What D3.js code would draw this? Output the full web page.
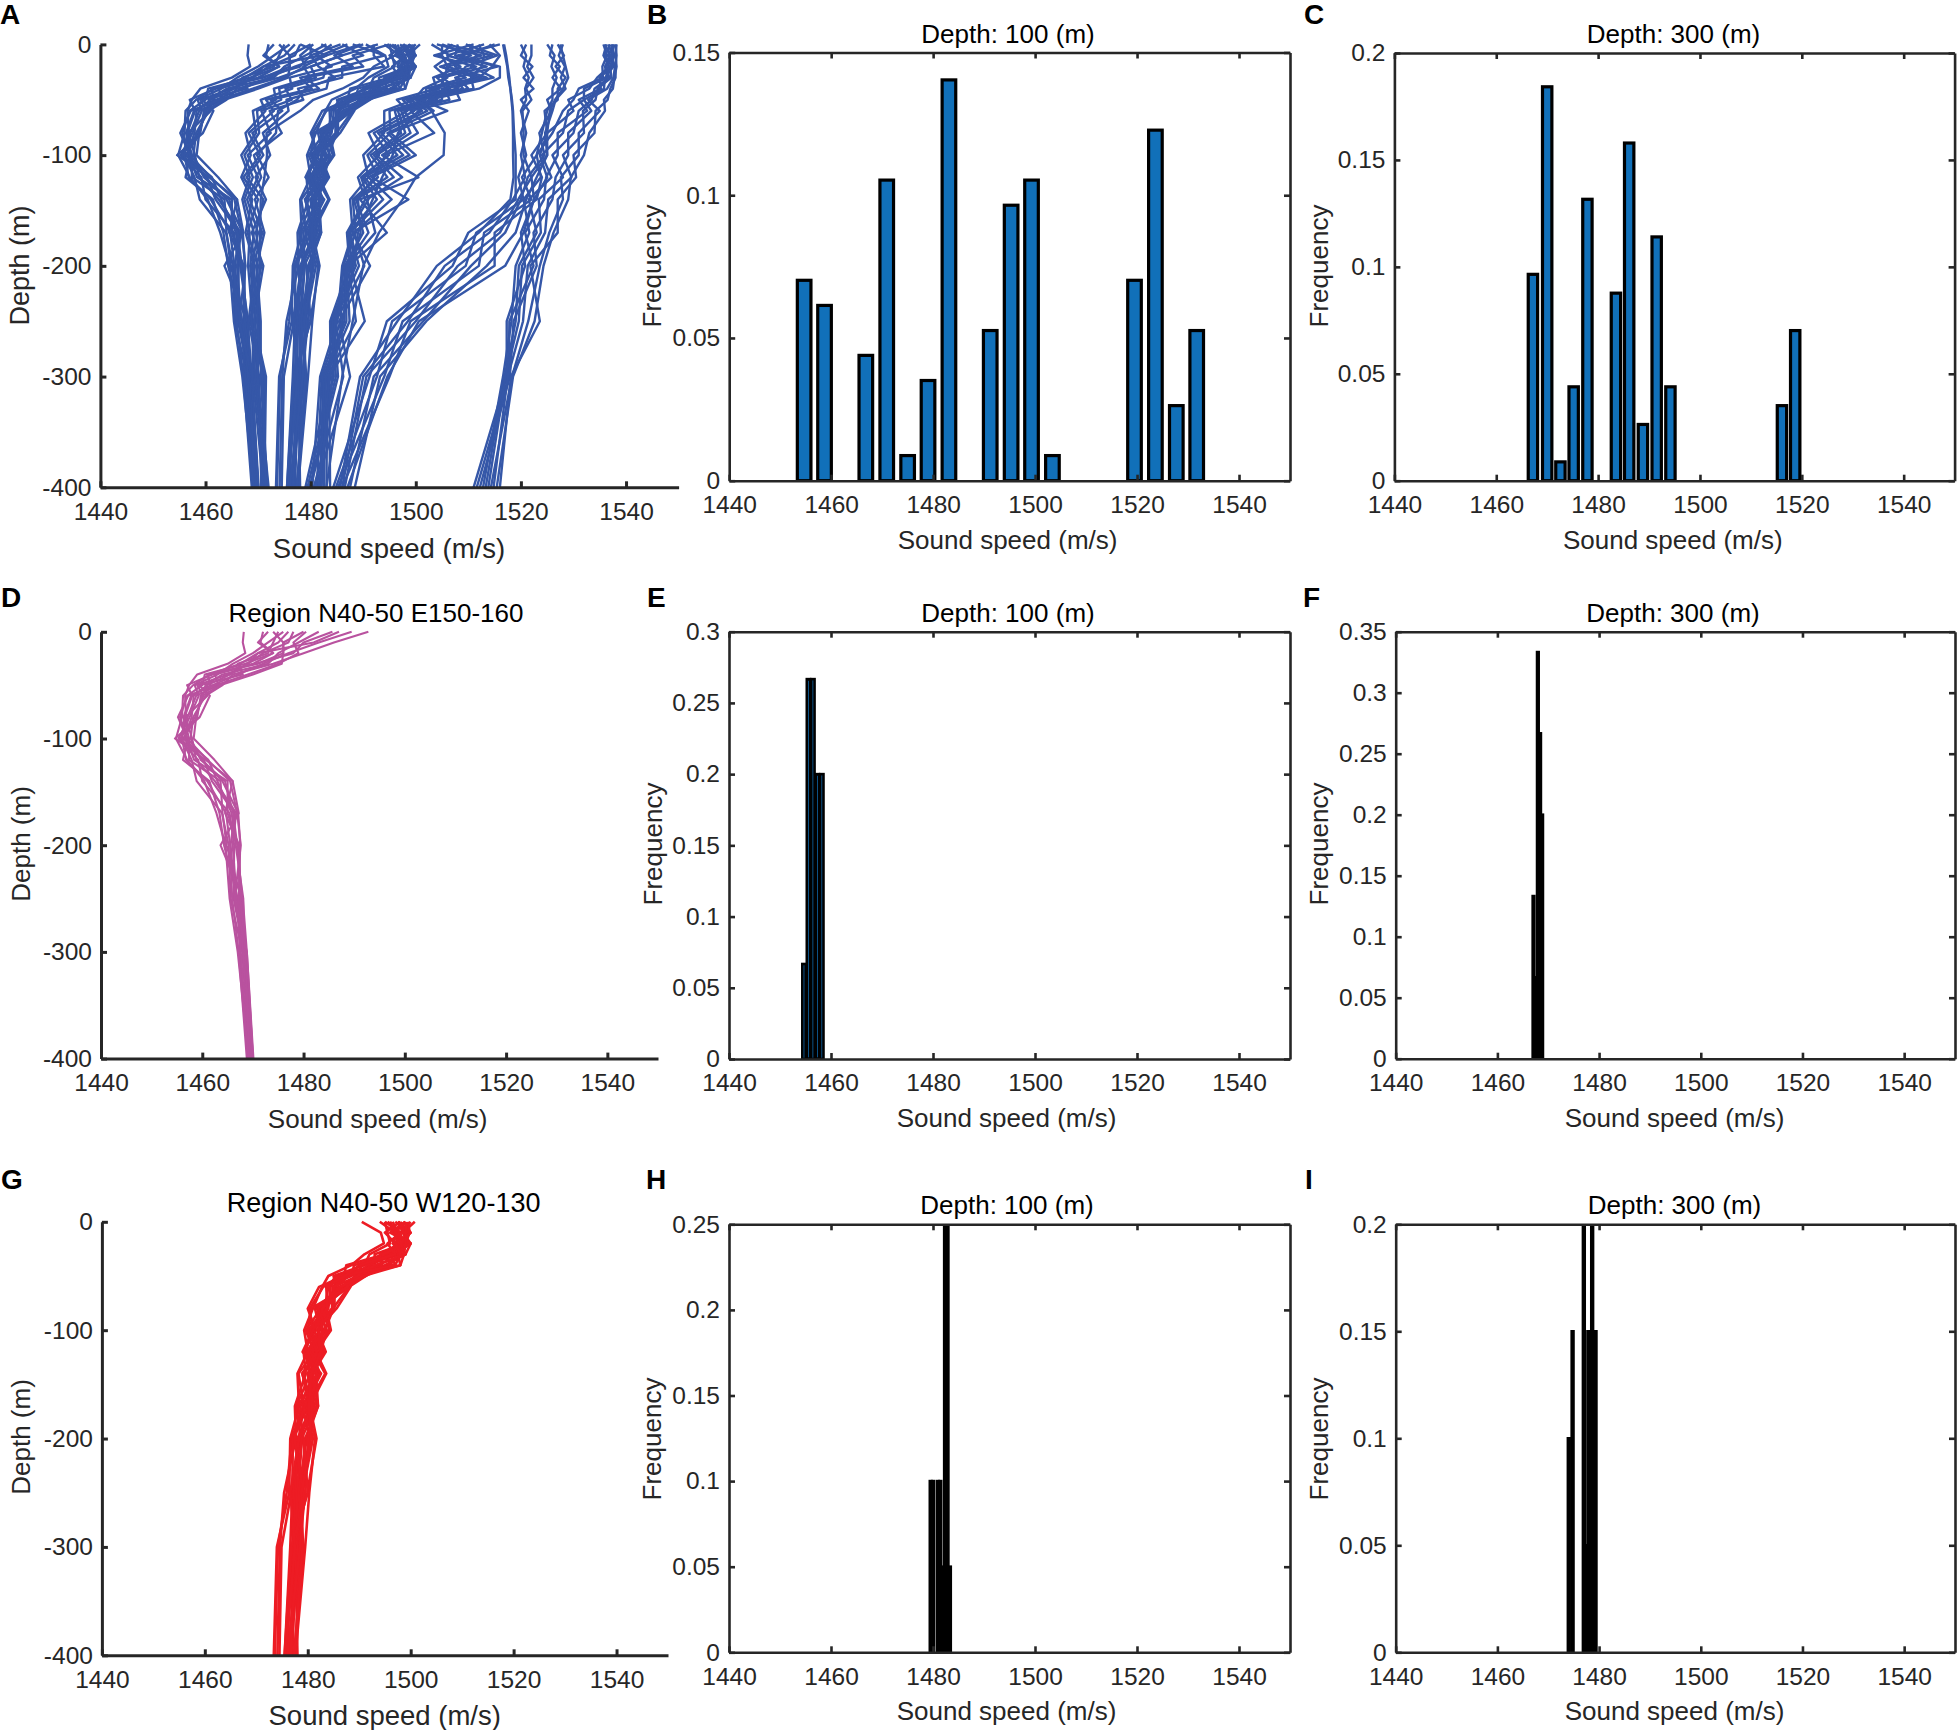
<!DOCTYPE html>
<html>
<head>
<meta charset="utf-8">
<script src="https://d3js.org/d3.v7.min.js"></script>
<style>
  body { margin: 0; background: #fff; }
  svg text { font-family: "Liberation Sans", Arial, sans-serif; }
</style>
</head>
<body>
<div id="chart"></div>
<script>
// Depth levels shared by all the profiles (m)
const depthLevels = [0, -10, -20, -30, -40, -50, -60, -80, -100, -120, -140, -170, -200, -250, -300, -400];

// Region N40-50 E150-160, sound speed at each depth level
const regionD = [
  [1468.2,1468,1468.5,1465,1459,1457.4,1456.6,1456.8,1455.9,1457.9,1458.9,1463.9,1465.2,1465.6,1467.9,1469.4],
  [1473,1471,1474,1468.5,1460.5,1460,1457,1455.6,1457.1,1456.2,1461.4,1463.4,1464.3,1467,1467.4,1469],
  [1476,1473,1470,1466,1463,1458.5,1459.3,1457.5,1455.3,1459.2,1460,1465.4,1466.3,1466.2,1468.2,1469.7],
  [1480,1476,1476,1471,1461,1461.7,1457.8,1456.3,1457.4,1457.4,1463.6,1464,1464.8,1467.7,1467.6,1469.1],
  [1478,1477,1472,1469,1465,1459,1460.2,1458.6,1455.6,1460.3,1461.9,1466.4,1465.6,1466.5,1468.5,1469.8],
  [1485.7,1480,1478,1470.5,1462.5,1463.2,1458.8,1457.1,1456.8,1458.4,1465,1465,1467.1,1467.4,1468,1469.3],
  [1483,1479,1475,1473,1464,1460.6,1461,1456.7,1458,1458.8,1462.5,1466.7,1466,1466.8,1468.7,1470],
  [1489.5,1483,1477,1472,1467,1462,1459.7,1459,1456.2,1461.2,1463,1465.8,1466.6,1468.1,1468.3,1469.6],
  [1487,1482,1471,1469,1465.5,1461,1458.3,1457.9,1456.5,1460,1464,1467.1,1467.5,1467.2,1468.1,1469.5],
  [1492.8,1486,1480,1474,1466,1464,1460.6,1458.2,1457.7,1459.7,1464.5,1466.1,1466.9,1467.9,1468.4,1469.9],
  [1475,1474,1473,1467,1468,1459.4,1461.5,1459.5,1454.6,1460.7,1466,1464.5,1467.3,1467.5,1468.6,1469.2],
  [1480.5,1478,1479,1475,1469,1462.6,1457.2,1455.2,1457,1461,1465.5,1466.9,1467.6,1466.4,1468.8,1470],
  [1472,1471.5,1474,1470,1462,1457,1458,1456.5,1456,1456.8,1461,1464.7,1465.5,1465.9,1467.2,1468.8],
  [1474,1476,1476,1475.7,1470,1463.5,1460,1458.8,1458.3,1462.4,1466,1467.2,1463.6,1468,1468.8,1470.1],
  [1477,1475,1471,1467.5,1461.5,1458.2,1456.2,1456,1454.8,1457,1460.4,1462.8,1464.6,1465.4,1467,1469.2]
];

// Region N40-50 W120-130
const regionG = [
  [1490.5,1494.2,1494.8,1491,1488.5,1484,1482.8,1481,1479.3,1480,1478,1478.3,1476.6,1476.4,1474,1473.4],
  [1494,1497,1498,1495,1487.5,1487,1482.2,1480,1481.5,1479.2,1479.6,1477.5,1477.7,1475.4,1474.6,1474.1],
  [1495,1495.5,1496,1492,1491,1485,1485.6,1482.6,1479.6,1481.3,1478.2,1479.2,1476.9,1475.9,1474.2,1473.6],
  [1495,1498,1497,1496,1489,1488.5,1483,1480.4,1480.9,1479.5,1480.5,1477.8,1478.6,1476.8,1474.9,1474.5],
  [1496,1496.5,1499,1493,1493,1485.5,1484,1483.3,1480.1,1482,1479,1480.1,1477.1,1477,1476.6,1475.5],
  [1499,1497,1497.5,1498,1490.5,1489.4,1486.8,1481.4,1482.4,1479.8,1481.2,1478.6,1478.9,1478.1,1477.8,1477],
  [1497,1499.5,1498,1494,1494.5,1486,1484.4,1484,1480.4,1482.6,1479.2,1480.7,1478,1477.3,1477,1475.9],
  [1497.5,1498.5,1500,1497,1492,1490.6,1487.2,1481.8,1483,1480.3,1482,1479,1480.4,1478.4,1478.2,1476.1],
  [1500,1498,1498.5,1495.5,1496,1487.6,1484.8,1484.7,1480.6,1483,1479.9,1481.3,1478.3,1477.6,1477.4,1476.9],
  [1498.5,1500,1497,1499,1493.5,1491.3,1488,1482.2,1483.6,1480.6,1482.4,1479.5,1481,1479,1478.8,1476.3],
  [1498,1499,1499.5,1496,1497,1488,1485.2,1485.2,1481.2,1483.2,1480.2,1481.7,1478.8,1477.9,1478,1476.5],
  [1499,1496,1500,1499,1495,1491,1486,1483,1484.2,1481,1483.4,1479.8,1481.4,1480.3,1479.5,1477.6],
  [1499.5,1499.8,1499,1497.5,1498,1489,1488.3,1485.6,1481.8,1483.5,1480.9,1482,1479.5,1478.7,1477.6,1478],
  [1496.5,1497.5,1496.5,1498.5,1495.5,1491.2,1486.4,1483.6,1484.5,1481.6,1483.6,1480.4,1481.7,1479.9,1477.2,1476.7],
  [1500.8,1498.5,1499.5,1494.5,1496.5,1490,1488,1484.9,1482.1,1482.3,1481.6,1482,1479.8,1478.2,1479.2,1477.3],
  [1497.5,1500,1498,1499,1493,1490.2,1487.6,1482.8,1482.7,1482.9,1480.4,1481,1480.1,1479.5,1478.4,1477.8],
  [1496,1497,1500,1496.5,1491.5,1489.8,1485,1485,1483.3,1480,1481.8,1478.1,1479.2,1480,1476.8,1475.5],
  [1498,1495,1497,1498,1497,1486.5,1487.8,1480.6,1480,1481.8,1478.9,1480.9,1478.3,1476.6,1477.5,1475.7],
  [1495.5,1498,1495.5,1497,1490,1487.3,1483.6,1483.8,1481,1479,1482.6,1479.4,1477.4,1479.2,1478.5,1476],
  [1499.2,1499,1499,1498.7,1498,1490.8,1486.2,1482,1483.7,1482.5,1480.7,1480.2,1480.6,1478.8,1479,1477.4]
];

// Other profile groups that only appear in the all-regions panel
const bandSecond = [
  [1478,1483,1478.6,1480,1473,1473.4,1469,1469.6,1466.8,1468.4,1467,1468.4,1468.1,1469,1469,1471],
  [1484,1481,1484,1476,1476.5,1470.5,1471.4,1467.6,1468.6,1466.8,1468.9,1467.6,1469.4,1468.2,1470.2,1470.6],
  [1482,1486,1480,1481,1474,1474.4,1469.8,1470.2,1467.4,1469,1467.4,1469.2,1468.5,1469.5,1469.3,1471.4],
  [1490,1484.5,1488,1478,1480.2,1471.5,1473,1468.2,1470.4,1467.2,1470,1468,1470,1468.5,1471,1470.8],
  [1486,1490,1483,1482.4,1475.2,1476.4,1470.6,1472.4,1468,1470,1467.9,1470,1468.8,1470,1469.6,1471.6],
  [1495,1488,1490,1479,1481.6,1472.4,1474.6,1468.9,1471,1467.8,1471,1469.6,1470.6,1468.7,1471.3,1471.1],
  [1488,1494,1486,1486,1477.6,1478.6,1472.2,1474.5,1469.2,1470.6,1468.4,1470.8,1469.1,1470.3,1469.9,1472],
  [1492,1492,1494,1483.5,1483,1475.4,1475.8,1470.9,1472.3,1469.5,1471.5,1468.8,1471,1469.2,1471.5,1471.2],
  [1480,1480,1481.5,1484.6,1479,1477.4,1473.8,1473.4,1469.8,1472,1469.4,1471.2,1469.7,1470.5,1470.5,1471.8],
  [1498,1496,1492,1490,1486,1480.5,1478,1471.6,1471.7,1471.2,1470.5,1470.4,1470.3,1469.8,1470.8,1471.5]
];
const bandFourth = [
  [1503,1506.5,1503.6,1506,1501.4,1499.6,1494,1494,1490,1491,1487.5,1488,1486,1485.1,1481.8,1480.3],
  [1507,1504.5,1508.5,1503.3,1504,1496.4,1498.4,1491,1493,1489,1490.4,1486.9,1487.4,1483.7,1483.8,1479],
  [1505,1510.5,1505,1509.5,1502,1501.8,1495,1495.2,1490.8,1492.8,1488,1488.6,1486.2,1485.7,1482.1,1481.2],
  [1511,1503.5,1511.5,1504,1506.5,1497.5,1499.7,1492,1494.9,1489.6,1491,1487.1,1487.9,1484,1484.4,1479.4],
  [1504,1512.5,1504.6,1511.5,1502.6,1503.2,1496,1497.2,1491.4,1494.6,1488.2,1490,1486.5,1486.4,1482.4,1481.8],
  [1513,1506,1513.5,1505,1508,1498.2,1501.2,1492.8,1496.5,1489.8,1492.6,1487.3,1488.6,1484.2,1484.8,1479.8],
  [1506,1514.5,1506,1512.5,1503.2,1504,1496.6,1498,1492,1495.8,1488.6,1491,1486.7,1486.8,1482.6,1482.1],
  [1508,1507.5,1515.5,1507.5,1509,1499,1502.2,1493.4,1497.6,1490.2,1493.8,1487.5,1489.2,1484.5,1485.2,1480],
  [1515,1509,1507.5,1513.5,1505,1505,1497.2,1499,1492.5,1497.4,1490.7,1492.3,1486.9,1487.4,1482.9,1482.5],
  [1509.5,1515.5,1509.5,1508,1510,1500.4,1503.4,1494.6,1498.8,1491,1495.4,1488.3,1490.2,1484.8,1486.2,1480.6],
  [1510,1511.5,1510.5,1514.8,1505.6,1506.4,1497.8,1500.4,1493.6,1500.5,1489.4,1494.5,1487.2,1488.6,1483.2,1483],
  [1512,1513,1512.5,1510.5,1511,1501,1506,1495.2,1500,1491.6,1498.6,1488,1491.3,1485.4,1487.5,1480.9],
  [1514,1516,1514.5,1512,1507.4,1508.4,1499,1503.5,1494.2,1492.1,1489,1489.5,1487.6,1490.3,1483.5,1483.7],
  [1516,1508,1516,1516,1512,1502.5,1500.5,1496.6,1495.6,1493.6,1491.8,1489,1488.2,1486,1484.1,1481.5],
  [1505,1505,1506,1505.5,1504.5,1500,1503,1505.5,1505.3,1500,1497.5,1493,1490,1488,1486,1483]
];
const bandFifth = [
  [1516.6,1517,1517.4,1517.6,1518,1518.2,1518.4,1518.5,1518.5,1518.6,1518,1512,1504,1496.5,1489.4,1485.6],
  [1516.8,1517.2,1517.5,1517.8,1518,1518.3,1518.5,1518.7,1519,1519,1519,1510,1507,1494.5,1491.2,1484.3],
  [1520,1521,1520.5,1521.5,1520.8,1521,1520,1521,1520,1520.8,1518.5,1514,1505.5,1498.5,1490,1486],
  [1521,1520,1522.2,1520.5,1522.4,1520,1521.5,1520,1521,1519.5,1520.5,1511.5,1509.5,1495.5,1492.6,1484.8],
  [1522,1522,1521.2,1522.4,1521,1522,1520.3,1520.5,1520.5,1522,1519.5,1516,1508,1500,1490.6,1486.5],
  [1525,1526.4,1525.8,1526.8,1526,1526,1525,1524,1523,1520.2,1522,1513,1512,1497.5,1494,1485.2],
  [1526,1525.5,1527.4,1526,1527.6,1525,1525.8,1523.5,1524.5,1521.3,1520,1517,1510.5,1501.4,1492,1487.5],
  [1527,1528.2,1526.6,1528.5,1527,1527,1524.5,1525,1522,1524,1523,1515,1515,1499,1495,1486],
  [1528,1527.2,1528.4,1527.6,1528.5,1526.6,1526,1524.6,1525,1523,1521,1519,1513.5,1502,1493.2,1488.4],
  [1527.5,1528,1528.5,1529,1528,1526.5,1525.5,1525,1523.6,1525,1522.5,1520.5,1517,1500.6,1494.6,1487]
];
const bandSixth = [
  [1535.7,1536.4,1535.5,1535.6,1531,1530,1528,1526,1523,1523.8,1520.5,1521.6,1519,1518.2,1516.6,1512.8],
  [1536.3,1535.7,1536.8,1534.5,1533,1529,1530,1525,1525,1522,1522.5,1520,1520.8,1517.3,1517.3,1511],
  [1536,1537,1536,1536.4,1532,1532,1529,1528,1524,1525.8,1521.5,1523,1519.6,1519,1516.9,1513.3],
  [1537,1536,1537.3,1535,1535.2,1531,1532.6,1527,1527,1524.8,1524.4,1520.8,1522.4,1517.8,1517.7,1511.6],
  [1536.6,1537.5,1536.3,1536.8,1534,1533.5,1531,1530,1526,1528,1523.4,1523.8,1520.2,1519.6,1517.1,1513.8],
  [1537.5,1536.7,1537.6,1536,1535.8,1532,1533.4,1529,1529,1526.6,1526,1522.4,1523,1518.6,1517.9,1512.2],
  [1537.2,1537.8,1537,1537.2,1534.6,1534.2,1531.8,1532,1528,1529.6,1525.2,1524.6,1521.3,1520.4,1517.5,1514.8],
  [1537.8,1537.2,1537.9,1537.6,1536.4,1532.8,1535,1531,1531,1527.6,1528,1525.4,1523.6,1521.4,1518.3,1514.3],
  [1538,1538.2,1538,1538,1537,1536.5,1534.2,1534,1530,1530.5,1527,1527,1521.8,1523.6,1518.1,1516],
  [1538.2,1538,1538.2,1537.8,1537.5,1535.8,1536,1533,1532,1529.5,1529,1526.2,1524.3,1522.6,1518.5,1515.4]
];

// Histograms: bin centres and frequencies per panel
const centersB = [1454.7,1458.7,1466.8,1470.9,1475,1479,1483.1,1491.2,1495.3,1499.3,1503.4,1519.5,1523.6,1527.7,1531.7];
const freqB = [0.0702,0.0614,0.0439,0.1053,0.0088,0.0351,0.1404,0.0526,0.0965,0.1053,0.0088,0.0702,0.1228,0.0263,0.0526];
const centersC = [1467.2,1470,1472.6,1475.2,1477.9,1483.5,1486.1,1488.8,1491.5,1494.2,1516.1,1518.7];
const freqC = [0.0965,0.1842,0.0088,0.0439,0.1316,0.0877,0.1579,0.0263,0.114,0.0439,0.0351,0.0702];
const centersE = [1454.7,1455.58,1456.45,1457.33,1458.2];
const freqE = [0.0667,0.2667,0.2667,0.2,0.2];
const centersF = [1467.1,1467.53,1467.96,1468.4,1468.8];
const freqF = [0.1333,0.0667,0.3333,0.2667,0.2];
const centersH = [1479.55,1480.02,1480.96,1481.43,1481.9,1482.37,1482.84,1483.31];
const freqH = [0.1,0.1,0.1,0.1,0.05,0.25,0.25,0.05];
const centersI = [1474.04,1474.79,1477,1477.5,1477.9,1478.64,1479.3];
const freqI = [0.1,0.15,0.2,0.05,0.15,0.2,0.15];

// Tick labels
const speedTicks = [1440,1460,1480,1500,1520,1540];
const depthTicks = [0,-100,-200,-300,-400];
const freqTicksB = [0,0.05,0.1,0.15];
const freqTicksC = [0,0.05,0.1,0.15,0.2];
const freqTicksE = [0,0.05,0.1,0.15,0.2,0.25,0.3];
const freqTicksF = [0,0.05,0.1,0.15,0.2,0.25,0.3,0.35];
const freqTicksH = [0,0.05,0.1,0.15,0.2,0.25];

const axisColor = "#262626";

const svg = d3.select("#chart").append("svg")
    .attr("width", 1958)
    .attr("height", 1730);

let clipCount = 0;

// Draws the axes for one panel and returns the group and scales
function setupPanel(box, yDomain, yTicks, boxed) {
    const x = d3.scaleLinear().domain([1440, 1550]).range([box.left, box.right]);
    const y = d3.scaleLinear().domain(yDomain).range([box.bottom, box.top]);
    const g = svg.append("g");
    const drawAxes = function() {
        const axes = svg.append("g");
        axes.append("g")
            .attr("transform", "translate(0," + box.bottom + ")")
            .call(d3.axisBottom(x).tickValues(speedTicks).tickFormat(d3.format("d"))
                .tickSizeInner(-6).tickSizeOuter(0).tickPadding(15));
        axes.append("g")
            .attr("transform", "translate(" + box.left + ",0)")
            .call(d3.axisLeft(y).tickValues(yTicks).tickFormat(d => String(d))
                .tickSizeInner(-6).tickSizeOuter(0).tickPadding(9));
        if (boxed) {
            axes.append("g")
                .attr("transform", "translate(0," + box.top + ")")
                .call(d3.axisTop(x).tickValues(speedTicks).tickFormat("")
                    .tickSizeInner(-6).tickSizeOuter(0));
            axes.append("g")
                .attr("transform", "translate(" + box.right + ",0)")
                .call(d3.axisRight(y).tickValues(yTicks).tickFormat("")
                    .tickSizeInner(-6).tickSizeOuter(0));
        }
        axes.selectAll("path, line").attr("stroke", axisColor).attr("stroke-width", boxed ? 2.6 : 3);
        axes.selectAll("text").attr("fill", axisColor).style("font-size", "24.5px");
    };
    return { g, x, y, drawAxes };
}

function addLabels(box, labels) {
    const size = labels.size || 26;
    svg.append("text")
        .attr("x", labels.xLabelX).attr("y", labels.xLabelY)
        .attr("text-anchor", "middle").attr("fill", axisColor)
        .style("font-size", size + "px")
        .text("Sound speed (m/s)");
    svg.append("text")
        .attr("transform", "translate(" + labels.yLabelX + "," + labels.yLabelY + ") rotate(-90)")
        .attr("text-anchor", "middle").attr("fill", axisColor)
        .style("font-size", (labels.ySize || size) + "px")
        .text(labels.yLabel);
    if (labels.title) {
        svg.append("text")
            .attr("x", labels.titleX).attr("y", labels.titleY)
            .attr("text-anchor", "middle").attr("fill", "#000")
            .style("font-size", (labels.titleSize || 26) + "px")
            .text(labels.title);
    }
    svg.append("text")
        .attr("x", labels.letterX).attr("y", labels.letterY)
        .attr("fill", "#000")
        .style("font-size", "28px").style("font-weight", "bold")
        .text(labels.letter);
}

function profilePanel(box, profiles, color, lineWidth, labels) {
    const p = setupPanel(box, [-400, 0], depthTicks, false);
    const line = d3.line()
        .x(d => p.x(d[0]))
        .y(d => p.y(d[1]));
    p.g.selectAll("path")
        .data(profiles)
        .enter().append("path")
        .attr("d", d => line(d.map((v, i) => [v, depthLevels[i]])))
        .attr("fill", "none")
        .attr("stroke", color)
        .attr("stroke-width", lineWidth)
        .attr("stroke-linejoin", "round");
    p.drawAxes();
    addLabels(box, labels);
}

function histPanel(box, centers, freqs, barWidth, outline, yMax, yTicks, labels) {
    const p = setupPanel(box, [0, yMax], yTicks, true);
    const clipId = "clip" + (clipCount++);
    p.g.append("clipPath").attr("id", clipId).append("rect")
        .attr("x", box.left).attr("y", box.top)
        .attr("width", box.right - box.left).attr("height", box.bottom - box.top);
    p.g.attr("clip-path", "url(#" + clipId + ")");
    p.g.selectAll("rect.bar")
        .data(centers)
        .enter().append("rect")
        .attr("class", "bar")
        .attr("x", d => p.x(d - barWidth / 2))
        .attr("y", (d, i) => p.y(freqs[i]))
        .attr("width", p.x(1440 + barWidth) - p.x(1440))
        .attr("height", (d, i) => box.bottom - p.y(freqs[i]))
        .attr("fill", "#1170b9")
        .attr("stroke", "#000")
        .attr("stroke-width", outline);
    p.drawAxes();
    addLabels(box, labels);
}

// Row 1
profilePanel({ left: 100.4, right: 678.6, top: 44.4, bottom: 487.3 },
    [].concat(regionD, bandSecond, regionG, bandFourth, bandFifth, bandSixth), "#3557a8", 2.4,
    { xLabelX: 389, xLabelY: 558, yLabelX: 29, yLabelY: 265.5, yLabel: "Depth (m)", size: 27.5, ySize: 27,
      letter: "A", letterX: 0, letterY: 24 });
histPanel({ left: 729.2, right: 1290, top: 52.5, bottom: 480.7 }, centersB, freqB, 2.67, 3.2, 0.15, freqTicksB,
    { xLabelX: 1007.6, xLabelY: 549, yLabelX: 661, yLabelY: 266, yLabel: "Frequency",
      title: "Depth: 100 (m)", titleX: 1008, titleY: 43, letter: "B", letterX: 647, letterY: 24 });
histPanel({ left: 1394.4, right: 1954.6, top: 53, bottom: 480.7 }, centersC, freqC, 1.84, 3.2, 0.2, freqTicksC,
    { xLabelX: 1672.8, xLabelY: 549, yLabelX: 1328, yLabelY: 266, yLabel: "Frequency",
      title: "Depth: 300 (m)", titleX: 1673.5, titleY: 43, letter: "C", letterX: 1304, letterY: 24 });

// Row 2
profilePanel({ left: 101, right: 658, top: 631.8, bottom: 1058.6 }, regionD, "#b9529f", 2.1,
    { xLabelX: 377.7, xLabelY: 1127.5, yLabelX: 30, yLabelY: 844, yLabel: "Depth (m)",
      title: "Region N40-50 E150-160", titleX: 376, titleY: 622, letter: "D", letterX: 1, letterY: 607 });
histPanel({ left: 729, right: 1290, top: 631.7, bottom: 1059 }, centersE, freqE, 0.65, 2.6, 0.3, freqTicksE,
    { xLabelX: 1006.5, xLabelY: 1127, yLabelX: 662, yLabelY: 844, yLabel: "Frequency",
      title: "Depth: 100 (m)", titleX: 1008, titleY: 622, letter: "E", letterX: 647, letterY: 607 });
histPanel({ left: 1395.7, right: 1955, top: 631.7, bottom: 1058.7 }, centersF, freqF, 0.32, 2.6, 0.35, freqTicksF,
    { xLabelX: 1674.5, xLabelY: 1127, yLabelX: 1328, yLabelY: 844, yLabel: "Frequency",
      title: "Depth: 300 (m)", titleX: 1673, titleY: 622, letter: "F", letterX: 1303, letterY: 607 });

// Row 3
profilePanel({ left: 101.9, right: 668, top: 1221.8, bottom: 1655.3 }, regionG, "#ed1c24", 2.6,
    { xLabelX: 384.7, xLabelY: 1724.5, yLabelX: 30, yLabelY: 1437, yLabel: "Depth (m)", size: 27.5, ySize: 26,
      title: "Region N40-50 W120-130", titleSize: 27, titleX: 383.6, titleY: 1212, letter: "G", letterX: 1, letterY: 1189 });
histPanel({ left: 729, right: 1290, top: 1224.3, bottom: 1652.3 }, centersH, freqH, 0.35, 2.6, 0.25, freqTicksH,
    { xLabelX: 1006.5, xLabelY: 1720, yLabelX: 661, yLabelY: 1439, yLabel: "Frequency",
      title: "Depth: 100 (m)", titleX: 1007, titleY: 1214, letter: "H", letterX: 646, letterY: 1189 });
histPanel({ left: 1395.7, right: 1955, top: 1224.3, bottom: 1652.3 }, centersI, freqI, 0.35, 2.6, 0.2, freqTicksC,
    { xLabelX: 1674.5, xLabelY: 1720, yLabelX: 1328, yLabelY: 1439, yLabel: "Frequency",
      title: "Depth: 300 (m)", titleX: 1674.5, titleY: 1214, letter: "I", letterX: 1305, letterY: 1189 });
</script>
</body>
</html>
